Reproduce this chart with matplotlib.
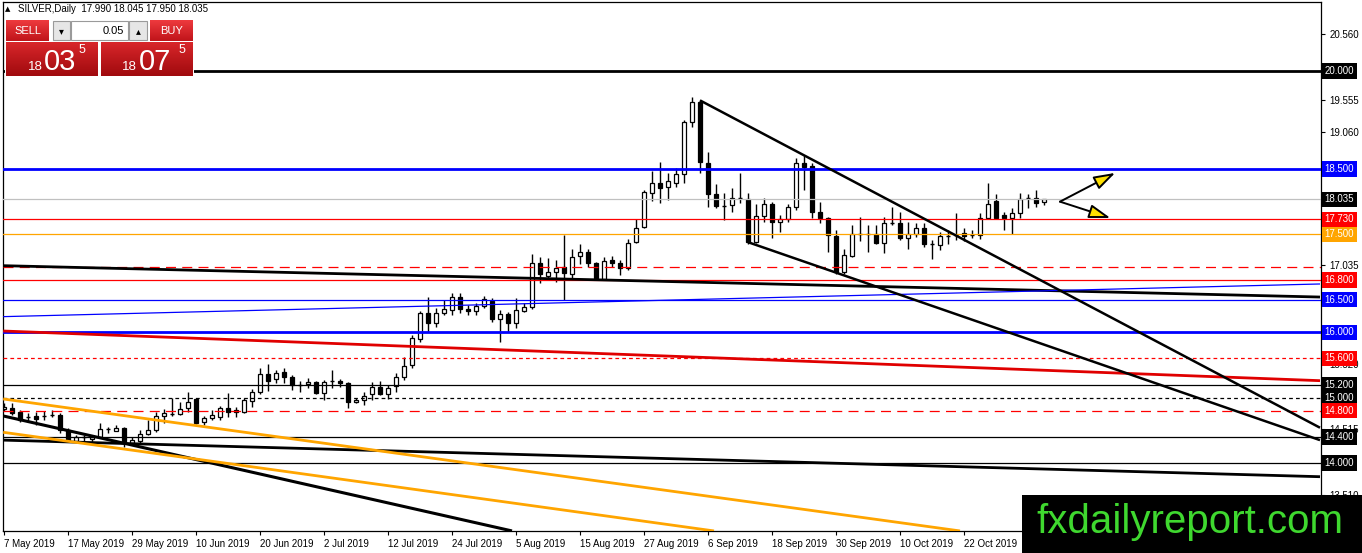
import matplotlib
matplotlib.use('Agg')
import matplotlib.pyplot as plt
import matplotlib.transforms as mtransforms
import matplotlib.colors as mcolors
from matplotlib.patches import Rectangle
import numpy as np
import pandas as pd

plt.rcParams['font.family'] = ['Liberation Sans', 'DejaVu Sans']

# ---------------- data ----------------
symbol = "SILVER,Daily"
header_ohlc = "17.990 18.045 17.950 18.035"
start_date = '2019-05-07'

opens = [14.82, 14.84, 14.78, 14.70, 14.72, 14.72, 14.73, 14.74, 14.50, 14.34,
         14.40, 14.37, 14.40, 14.52, 14.49, 14.54, 14.31, 14.34, 14.44, 14.50,
         14.72, 14.75, 14.75, 14.84, 14.98, 14.63, 14.69, 14.70, 14.84, 14.81,
         14.78, 14.95, 15.09, 15.36, 15.29, 15.39, 15.32, 15.20, 15.21, 15.24,
         15.07, 15.25, 15.26, 15.22, 14.93, 14.96, 15.06, 15.16, 15.06, 15.18,
         15.32, 15.50, 15.90, 16.30, 16.14, 16.30, 16.34, 16.54, 16.36, 16.33,
         16.40, 16.48, 16.20, 16.28, 16.14, 16.33, 16.39, 17.06, 16.86, 16.92,
         17.00, 16.89, 17.17, 17.23, 17.06, 16.82, 17.11, 17.06, 16.98, 17.38,
         17.61, 18.13, 18.29, 18.22, 18.29, 18.42, 19.22, 19.53, 18.59, 18.12,
         17.94, 17.95, 18.05, 18.04, 17.38, 17.78, 17.96, 17.69, 17.73, 17.92,
         18.59, 18.55, 17.84, 17.75, 17.47, 16.92, 17.17, 17.50, 17.51, 17.50,
         17.37, 17.67, 17.67, 17.44, 17.50, 17.60, 17.35, 17.34, 17.47, 17.49,
         17.52, 17.49, 17.49, 17.75, 18.01, 17.80, 17.75, 17.83, 18.05, 18.06,
         17.990]
highs = [14.92, 14.92, 14.81, 14.77, 14.78, 14.80, 14.81, 14.77, 14.54, 14.43,
         14.43, 14.43, 14.61, 14.55, 14.58, 14.55, 14.40, 14.50, 14.66, 14.78,
         14.83, 15.00, 14.93, 15.09, 15.00, 14.72, 14.81, 14.87, 15.07, 14.86,
         15.00, 15.13, 15.45, 15.52, 15.42, 15.45, 15.34, 15.26, 15.30, 15.26,
         15.27, 15.42, 15.29, 15.24, 15.00, 15.09, 15.24, 15.26, 15.19, 15.38,
         15.62, 15.96, 16.33, 16.54, 16.37, 16.49, 16.60, 16.60, 16.42, 16.45,
         16.56, 16.52, 16.34, 16.31, 16.52, 16.45, 17.20, 17.15, 17.14, 17.11,
         17.49, 17.28, 17.35, 17.28, 17.08, 17.15, 17.17, 17.11, 17.43, 17.73,
         18.18, 18.47, 18.61, 18.44, 18.51, 19.25, 19.60, 19.55, 18.76, 18.27,
         18.13, 18.21, 18.44, 18.13, 17.96, 18.06, 18.00, 17.80, 17.96, 18.67,
         18.71, 18.59, 18.00, 17.77, 17.57, 17.28, 17.64, 17.77, 17.64, 17.64,
         17.77, 17.92, 17.84, 17.69, 17.67, 17.67, 17.41, 17.54, 17.57, 17.83,
         17.60, 17.57, 17.83, 18.29, 18.12, 17.84, 17.90, 18.13, 18.12, 18.18,
         18.045]
lows = [14.79, 14.74, 14.63, 14.64, 14.58, 14.66, 14.70, 14.46, 14.32, 14.32,
        14.31, 14.32, 14.39, 14.46, 14.49, 14.25, 14.28, 14.31, 14.43, 14.48,
        14.61, 14.72, 14.74, 14.78, 14.60, 14.58, 14.66, 14.66, 14.70, 14.70,
        14.77, 14.86, 15.06, 15.10, 15.22, 15.22, 15.12, 15.09, 15.15, 15.05,
        14.96, 15.15, 15.16, 14.84, 14.92, 14.89, 14.96, 15.04, 14.98, 15.09,
        15.27, 15.45, 15.85, 16.00, 16.08, 16.27, 16.27, 16.30, 16.27, 16.27,
        16.37, 16.16, 15.85, 16.00, 16.07, 16.31, 16.36, 16.76, 16.80, 16.77,
        16.50, 16.83, 17.05, 17.00, 16.80, 16.80, 17.00, 16.88, 16.95, 17.37,
        17.60, 18.01, 17.98, 18.03, 18.22, 18.29, 19.14, 18.44, 17.92, 17.90,
        17.72, 17.84, 17.98, 17.35, 17.37, 17.69, 17.44, 17.54, 17.69, 17.87,
        18.18, 17.75, 17.67, 17.23, 16.90, 16.90, 17.15, 17.40, 17.23, 17.35,
        17.21, 17.64, 17.41, 17.28, 17.46, 17.31, 17.12, 17.26, 17.35, 17.41,
        17.40, 17.44, 17.43, 17.74, 17.73, 17.57, 17.51, 17.75, 17.90, 17.92,
        17.950]
closes = [14.86, 14.77, 14.66, 14.71, 14.67, 14.73, 14.74, 14.50, 14.35, 14.40,
          14.41, 14.40, 14.52, 14.53, 14.54, 14.31, 14.35, 14.44, 14.50, 14.72,
          14.77, 14.76, 14.83, 14.93, 14.61, 14.69, 14.74, 14.84, 14.78, 14.78,
          14.96, 15.09, 15.36, 15.25, 15.38, 15.32, 15.19, 15.21, 15.24, 15.07,
          15.24, 15.26, 15.22, 14.93, 14.96, 15.02, 15.16, 15.06, 15.15, 15.32,
          15.48, 15.91, 16.30, 16.14, 16.30, 16.36, 16.54, 16.36, 16.33, 16.40,
          16.51, 16.20, 16.28, 16.14, 16.34, 16.39, 17.06, 16.89, 16.92, 16.99,
          16.91, 17.15, 17.23, 17.06, 16.82, 17.09, 17.06, 16.98, 17.37, 17.60,
          18.15, 18.29, 18.21, 18.32, 18.42, 19.22, 19.53, 18.61, 18.12, 17.93,
          17.95, 18.06, 18.06, 17.38, 17.78, 17.96, 17.69, 17.73, 17.92, 18.59,
          18.53, 17.84, 17.75, 17.49, 16.92, 17.18, 17.50, 17.51, 17.50, 17.37,
          17.67, 17.68, 17.44, 17.50, 17.60, 17.35, 17.36, 17.47, 17.48, 17.50,
          17.47, 17.50, 17.75, 17.96, 17.75, 17.75, 17.83, 18.04, 18.06, 17.98,
          18.035]

# horizontal support / resistance levels
levels = [20.000, 18.500, 18.035, 17.730, 17.500, 17.000, 16.800, 16.500,
          16.000, 15.600, 15.200, 15.000, 14.800, 14.400, 14.000]
level_labels = ['20.000', '18.500', '18.035', '17.730', '17.500', None, '16.800',
                '16.500', '16.000', '15.600', '15.200', '15.000', '14.800',
                '14.400', '14.000']

# price-axis tick values shown by the terminal
price_ticks = [20.560, 19.555, 19.060, 17.035, 15.520, 14.515, 13.510]

# trend lines: (bar index start, price start, bar index end, price end)
trend_lines = [
    (-0.1, 17.02, 164.5, 16.54),
    (-0.1, 16.24, 164.5, 16.74),
    (-0.1, 16.02, 164.5, 15.26),
    (87.0, 19.55, 164.5, 14.54),
    (93.0, 17.38, 164.5, 14.35),
    (-0.1, 14.72, 63.5, 12.96),
    (-0.1, 14.35, 164.5, 13.79),
    (-0.1, 14.98, 119.5, 12.96),
    (-0.1, 14.47, 88.75, 12.96),
]

# scenario arrows: start point and two targets (bar index, price)
arrow_start = (132.0, 18.00)
arrow_ends = [(138.9, 18.44), (138.3, 17.75)]

# ---------------- styles ----------------
BLUE = '#0000FF'
RED = '#FF0000'
ORANGE = '#FFA500'
level_colors = ['black', BLUE, '#C0C0C0', RED, ORANGE, RED, RED, BLUE,
                BLUE, RED, 'black', 'black', RED, 'black', 'black']
level_box_colors = ['black', BLUE, 'black', RED, ORANGE, None, RED, BLUE,
                    BLUE, RED, 'black', 'black', RED, 'black', 'black']
level_widths = [2.0, 2.0, 0.9, 0.9, 0.9, 0.9, 0.9, 0.9,
                2.0, 0.9, 0.9, 0.9, 0.9, 0.9, 0.9]
level_dashes = [None, None, None, None, None, (8, 5), None, None,
                None, (3, 2.5), None, (3, 2.5), (8, 5), None, None]
trend_colors = ['black', BLUE, '#E00000', 'black', 'black', 'black', 'black', ORANGE, ORANGE]
trend_widths = [2.0, 0.9, 2.0, 1.8, 1.8, 2.2, 2.0, 2.0, 2.0]

# ---------------- figure ----------------
W, H = 1362, 553
fig = plt.figure(figsize=(W / 100, H / 100), dpi=100)
fig.patch.set_facecolor('white')

px_l, px_r, px_t, px_b = 3, 1321, 2, 531
ax = fig.add_axes([px_l / W, (H - px_b) / H, (px_r - px_l) / W, (px_b - px_t) / H])
ax.set_facecolor('white')

n = len(opens)
idx = np.arange(n)
dates = pd.bdate_range(start_date, periods=n)

ax.set_xlim(-0.125, 164.625)
ax.set_ylim(12.959, 21.056)

# candles
o = np.array(opens); h = np.array(highs); l = np.array(lows); c = np.array(closes)
ax.vlines(idx, l, h, color='black', lw=1.0, zorder=2)
body_lo = np.minimum(o, c)
body_h = np.abs(c - o)
up = c >= o
doji = body_h < 0.012
bw = 0.6
nd = ~doji
ax.bar(idx[nd], body_h[nd], bottom=body_lo[nd], width=bw,
       color=np.where(up[nd], 'white', 'black'), edgecolor='black', linewidth=0.9, zorder=2.1)
ax.hlines(o[doji], idx[doji] - bw / 2, idx[doji] + bw / 2, color='black', lw=1.0, zorder=2.1)

# horizontal levels
for val, col, lw, ds in zip(levels, level_colors, level_widths, level_dashes):
    ln = ax.axhline(val, color=col, lw=lw, zorder=3)
    if ds is not None:
        ln.set_dashes(ds)

# trend lines
for (x0, y0, x1, y1), col, lw in zip(trend_lines, trend_colors, trend_widths):
    ax.plot([x0, x1], [y0, y1], color=col, lw=lw, zorder=3, solid_capstyle='butt')

# arrows
for end in arrow_ends:
    ax.annotate('', xy=end, xytext=arrow_start,
                arrowprops=dict(arrowstyle='-|>,head_length=1.3,head_width=0.42',
                                fc='#FFE000', ec='black', lw=1.4, shrinkA=0, shrinkB=0),
                zorder=5)

# axes styling
for s in ax.spines.values():
    s.set_color('black')
    s.set_linewidth(0.9)
ax.yaxis.tick_right()
ax.set_yticks(price_ticks)
ax.set_yticklabels([f"{v:.3f}" for v in price_ticks])
ax.tick_params(axis='y', which='both', length=3, width=0.8, pad=3, labelsize=7, colors='black')

ax.set_xticks(idx[::8])
ax.set_xticklabels([f"{d.day} {d.strftime('%b %Y')}" for d in dates[::8]], ha='left')
ax.tick_params(axis='x', length=3, width=0.8, pad=3, labelsize=7, colors='black')

# right-axis level boxes
trans = mtransforms.blended_transform_factory(ax.transAxes, ax.transData)
for val, lab, bc in zip(levels, level_labels, level_box_colors):
    if lab is None:
        continue
    ax.text(1.0025, val, lab, transform=trans, color='white', fontsize=7,
            ha='left', va='center', clip_on=False, zorder=6,
            bbox=dict(boxstyle='square,pad=0.28', fc=bc, ec='none'))

# ---------------- overlay: trading panel & watermark ----------------
ov = fig.add_axes([0, 0, 1, 1])
ov.set_xlim(0, W)
ov.set_ylim(H, 0)
ov.axis('off')


def grad_rect(x0, y0, x1, y1, c_top, c_bot, z=10):
    t = np.linspace(0, 1, 40)[:, None]
    top = np.array(mcolors.to_rgb(c_top))
    bot = np.array(mcolors.to_rgb(c_bot))
    img = (top * (1 - t) + bot * t)[:, None, :]
    ov.imshow(img, extent=(x0, x1, y1, y0), aspect='auto', zorder=z, interpolation='bilinear')


ov.add_patch(Rectangle((5, 19), 189, 58, fc='white', ec='none', zorder=9))
grad_rect(6, 20, 49, 41, '#EE3A3E', '#C0141A')
grad_rect(150, 20, 193, 41, '#EE3A3E', '#C0141A')
grad_rect(6, 42, 98, 76, '#D8262A', '#A00A0E')
grad_rect(101, 42, 193, 76, '#D8262A', '#A00A0E')
ov.add_patch(Rectangle((53, 21), 17, 19, fc='#E6E6E6', ec='#9A9A9A', lw=0.8, zorder=11))
ov.add_patch(Rectangle((71, 21), 57, 19, fc='white', ec='#9A9A9A', lw=0.8, zorder=11))
ov.add_patch(Rectangle((129, 21), 18, 19, fc='#E6E6E6', ec='#9A9A9A', lw=0.8, zorder=11))
ov.text(61.5, 31, '▾', fontsize=7, ha='center', va='center', color='black', zorder=12,
        family=['DejaVu Sans'])
ov.text(138, 31, '▴', fontsize=7, ha='center', va='center', color='black', zorder=12,
        family=['DejaVu Sans'])
ov.text(124, 31, '0.05', fontsize=8, ha='right', va='center', color='black', zorder=12)
ov.text(27.5, 31, 'SELL', fontsize=8, ha='center', va='center', color='white', zorder=12)
ov.text(171.5, 31, 'BUY', fontsize=8, ha='center', va='center', color='white', zorder=12)

sell_price, buy_price = '18.035', '18.075'
for (xs, xb, xp), pr in zip([(35, 60, 82), (129, 155, 182)], [sell_price, buy_price]):
    big, main, frac = pr[:2], pr[3:5], pr[5]
    ov.text(xs, 70, big, fontsize=9.5, ha='center', va='baseline', color='white', zorder=12)
    ov.text(xb, 70, main, fontsize=21, ha='center', va='baseline', color='white', zorder=12)
    ov.text(xp, 53, frac, fontsize=9, ha='center', va='baseline', color='white', zorder=12)

ov.text(5, 9.5, '▲', fontsize=5, ha='left', va='center', color='black', family=['DejaVu Sans'])
ov.text(18, 9.5, f"{symbol}  {header_ohlc}", fontsize=7, ha='left', va='center', color='black')

ov.add_patch(Rectangle((1022, 495), 340, 58, fc='black', ec='none', zorder=20))
ov.text(1190, 533, 'fxdailyreport.com', fontsize=29, ha='center', va='baseline',
        color='#3FD82F', zorder=21)

fig.savefig('out.png', dpi=100, facecolor='white')
